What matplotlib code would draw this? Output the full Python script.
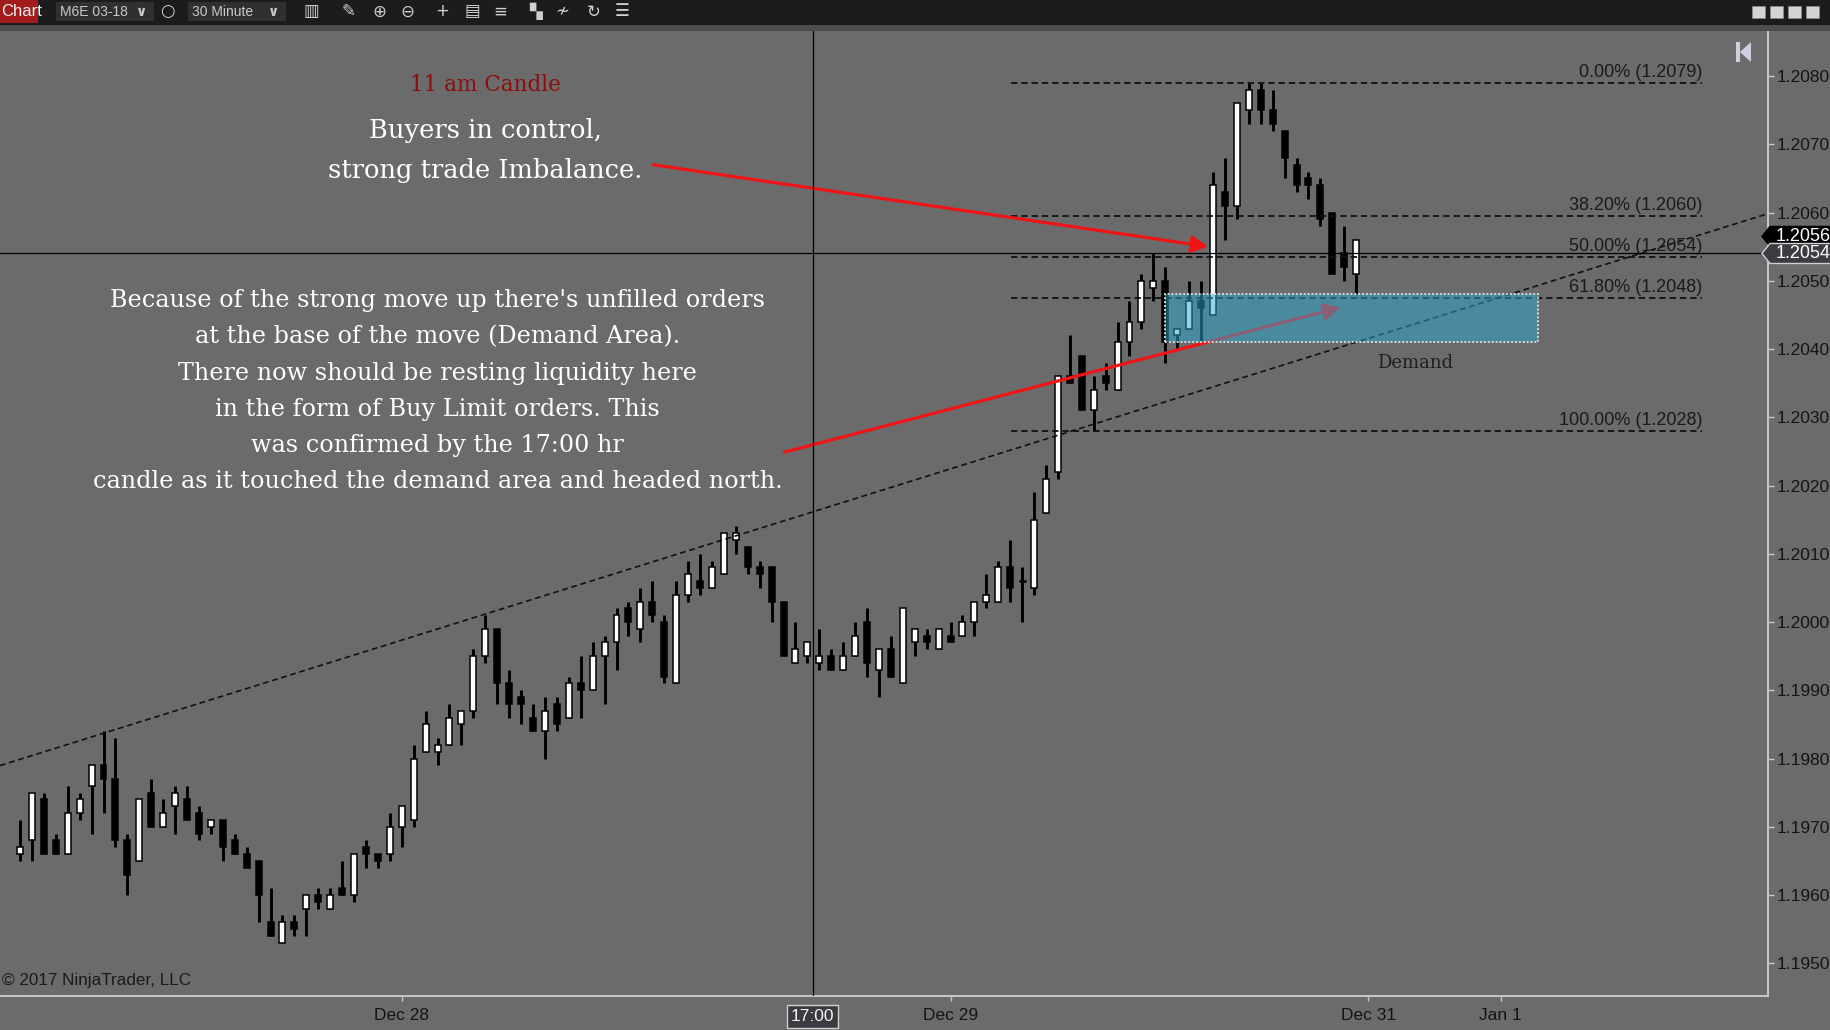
import matplotlib
matplotlib.use('Agg')
import matplotlib.pyplot as plt
from matplotlib.patches import Rectangle, Polygon
from matplotlib.transforms import blended_transform_factory
import numpy as np

W, H, DPI = 1831, 1030, 100
BG = '#6b6b6b'

# ---------------- data (30 minute bars, M6E 03-18) ----------------
opens = [1.1966, 1.1968, 1.1974, 1.1968, 1.1966, 1.1972, 1.1976, 1.1979, 1.1977, 1.1968,
         1.1965, 1.1975, 1.1970, 1.1973, 1.1974, 1.1972, 1.1970, 1.1971, 1.1968, 1.1966,
         1.1965, 1.1956, 1.1953, 1.1956, 1.1958, 1.1960, 1.1958, 1.1961, 1.1960, 1.1967,
         1.1966, 1.1966, 1.1970, 1.1971, 1.1981, 1.1981, 1.1982, 1.1985, 1.1987, 1.1995,
         1.1999, 1.1991, 1.1989, 1.1986, 1.1984, 1.1988, 1.1986, 1.1991, 1.1990, 1.1995,
         1.1997, 1.2002, 1.1999, 1.2003, 1.2000, 1.1991, 1.2004, 1.2006, 1.2005, 1.2007,
         1.2012, 1.2011, 1.2008, 1.2008, 1.2003, 1.1994, 1.1995, 1.1994, 1.1995, 1.1993,
         1.1995, 1.2000, 1.1993, 1.1996, 1.1991, 1.1997, 1.1998, 1.1996, 1.1998, 1.1998,
         1.2000, 1.2003, 1.2003, 1.2008, 1.2006, 1.2005, 1.2016, 1.2022, 1.2036, 1.2039,
         1.2031, 1.2036, 1.2034, 1.2041, 1.2044, 1.2049, 1.2050, 1.2042, 1.2043, 1.2047,
         1.2045, 1.2063, 1.2061, 1.2075, 1.2078, 1.2075, 1.2072, 1.2067, 1.2065, 1.2064,
         1.2060, 1.2054, 1.2051]
highs = [1.1971, 1.1975, 1.1975, 1.1969, 1.1976, 1.1975, 1.1979, 1.1984, 1.1983, 1.1969,
         1.1974, 1.1977, 1.1974, 1.1976, 1.1976, 1.1973, 1.1971, 1.1971, 1.1969, 1.1967,
         1.1965, 1.1961, 1.1957, 1.1957, 1.1960, 1.1961, 1.1961, 1.1965, 1.1966, 1.1968,
         1.1966, 1.1972, 1.1973, 1.1982, 1.1987, 1.1983, 1.1988, 1.1987, 1.1996, 1.2001,
         1.1999, 1.1993, 1.1990, 1.1988, 1.1989, 1.1989, 1.1992, 1.1995, 1.1997, 1.1998,
         1.2002, 1.2003, 1.2005, 1.2006, 1.2001, 1.2006, 1.2009, 1.2010, 1.2009, 1.2013,
         1.2014, 1.2011, 1.2009, 1.2008, 1.2003, 1.2000, 1.1997, 1.1999, 1.1996, 1.1997,
         1.2000, 1.2002, 1.1996, 1.1998, 1.2002, 1.1999, 1.1999, 1.1999, 1.2000, 1.2001,
         1.2003, 1.2007, 1.2009, 1.2012, 1.2008, 1.2019, 1.2023, 1.2036, 1.2042, 1.2039,
         1.2036, 1.2038, 1.2044, 1.2047, 1.2051, 1.2054, 1.2052, 1.2043, 1.2050, 1.2050,
         1.2066, 1.2068, 1.2076, 1.2079, 1.2079, 1.2078, 1.2072, 1.2068, 1.2066, 1.2065,
         1.2060, 1.2058, 1.2056]
lows = [1.1965, 1.1965, 1.1966, 1.1966, 1.1966, 1.1971, 1.1969, 1.1972, 1.1967, 1.1960,
        1.1965, 1.1970, 1.1970, 1.1969, 1.1971, 1.1968, 1.1969, 1.1965, 1.1966, 1.1964,
        1.1956, 1.1954, 1.1953, 1.1954, 1.1954, 1.1958, 1.1958, 1.1960, 1.1959, 1.1964,
        1.1964, 1.1965, 1.1967, 1.1970, 1.1981, 1.1979, 1.1982, 1.1982, 1.1986, 1.1994,
        1.1988, 1.1986, 1.1985, 1.1984, 1.1980, 1.1984, 1.1986, 1.1986, 1.1990, 1.1988,
        1.1993, 1.1998, 1.1997, 1.2000, 1.1991, 1.1991, 1.2003, 1.2004, 1.2005, 1.2007,
        1.2010, 1.2007, 1.2005, 1.2000, 1.1995, 1.1994, 1.1994, 1.1993, 1.1993, 1.1993,
        1.1995, 1.1992, 1.1989, 1.1992, 1.1991, 1.1995, 1.1996, 1.1996, 1.1997, 1.1998,
        1.1998, 1.2002, 1.2003, 1.2003, 1.2000, 1.2004, 1.2016, 1.2021, 1.2035, 1.2031,
        1.2028, 1.2034, 1.2034, 1.2039, 1.2043, 1.2047, 1.2038, 1.2040, 1.2043, 1.2041,
        1.2045, 1.2056, 1.2059, 1.2073, 1.2073, 1.2072, 1.2065, 1.2063, 1.2062, 1.2058,
        1.2051, 1.2050, 1.2048]
closes = [1.1967, 1.1975, 1.1966, 1.1966, 1.1972, 1.1974, 1.1979, 1.1977, 1.1968, 1.1963,
          1.1974, 1.1970, 1.1972, 1.1975, 1.1971, 1.1969, 1.1971, 1.1967, 1.1966, 1.1964,
          1.1960, 1.1954, 1.1956, 1.1955, 1.1960, 1.1959, 1.1960, 1.1960, 1.1966, 1.1966,
          1.1965, 1.1970, 1.1973, 1.1980, 1.1985, 1.1982, 1.1986, 1.1987, 1.1995, 1.1999,
          1.1991, 1.1988, 1.1988, 1.1984, 1.1987, 1.1985, 1.1991, 1.1990, 1.1995, 1.1997,
          1.2001, 1.2000, 1.2003, 1.2001, 1.1992, 1.2004, 1.2007, 1.2005, 1.2008, 1.2013,
          1.2013, 1.2008, 1.2007, 1.2003, 1.1995, 1.1996, 1.1997, 1.1995, 1.1993, 1.1995,
          1.1998, 1.1994, 1.1996, 1.1992, 1.2002, 1.1999, 1.1997, 1.1999, 1.1997, 1.2000,
          1.2003, 1.2004, 1.2008, 1.2005, 1.2006, 1.2015, 1.2021, 1.2036, 1.2035, 1.2031,
          1.2034, 1.2035, 1.2041, 1.2044, 1.2050, 1.2050, 1.2041, 1.2043, 1.2047, 1.2046,
          1.2064, 1.2061, 1.2076, 1.2078, 1.2075, 1.2073, 1.2068, 1.2064, 1.2064, 1.2059,
          1.2051, 1.2052, 1.2056]

time_tick_pos = [32, 78, 113, 124.1]
time_tick_labels = ['Dec 28', 'Dec 29', 'Dec 31', 'Jan 1']
price_ticks = [1.1950, 1.1960, 1.1970, 1.1980, 1.1990, 1.2000, 1.2010,
               1.2020, 1.2030, 1.2040, 1.2050, 1.2060, 1.2070, 1.2080]

fib_high, fib_low = 1.2079, 1.2028
fib_ratios = [0.0, 0.382, 0.5, 0.618, 1.0]
fib_label_prices = [1.2079, 1.2060, 1.2054, 1.2048, 1.2028]
fib_start, fib_end = 83.1, 141.0

trend_idx = [7, 112]
trend_price = [1.19837, 1.20410]

demand_start, demand_end = 96.0, 127.2
demand_low, demand_high = 1.2041, 1.2048

crosshair_idx = 66.45
crosshair_price = 1.2054
crosshair_time = '17:00'
last_price = 1.2056

arrow1_from, arrow1_to = (53.1, 1.20670), (99.6, 1.20550)
arrow2_from, arrow2_to = (64.1, 1.20249), (110.7, 1.20461)

title_red = '11 am Candle'
title_white = ['Buyers in control,', 'strong trade Imbalance.']
note_lines = ["Because of the strong move up there's unfilled orders",
              "at the base of the move (Demand Area).",
              "There now should be resting liquidity here",
              "in the form of Buy Limit orders. This",
              "was confirmed by the 17:00 hr",
              "candle as it touched the demand area and headed north."]

# ---------------- figure ----------------
plt.rcParams['font.family'] = ['Liberation Sans', 'DejaVu Sans']
fig = plt.figure(figsize=(W / DPI, H / DPI), dpi=DPI, facecolor=BG)


def fx(px):
    return px / W


def fy(py):
    return 1 - py / H


# toolbar
fig.add_artist(Rectangle((0, fy(25)), 1, 25 / H, transform=fig.transFigure,
                         facecolor='#1c1c1c', edgecolor='none', zorder=1))
fig.add_artist(Rectangle((0, fy(31)), 1, 6 / H, transform=fig.transFigure,
                         facecolor='#4d4d4d', edgecolor='none', zorder=1))
fig.add_artist(Rectangle((0, fy(23)), 38 / W, 23 / H, transform=fig.transFigure,
                         facecolor='#a31c1c', edgecolor='none', zorder=2))
fig.text(fx(1), fy(11.5), 'Chart', color='#f2f2f2', fontsize=12, va='center', ha='left', zorder=3)
for x0, w0, label in [(56, 98, 'M6E 03-18'), (188, 98, '30 Minute')]:
    fig.add_artist(Rectangle((fx(x0), fy(21)), w0 / W, 19 / H, transform=fig.transFigure,
                             facecolor='#303030', edgecolor='none', zorder=2))
    fig.text(fx(x0 + 4), fy(11.5), label, color='#c8c8c8', fontsize=10, va='center', zorder=3)
    fig.text(fx(x0 + w0 - 12), fy(11.5), '∨', color='#c8c8c8', fontsize=10, va='center',
             ha='center', family='DejaVu Sans', weight='bold', zorder=3)
icons = [(167, '○'), (311, '▥'), (348, '✎'), (379, '⊕'), (407, '⊖'), (442, '+'),
         (472, '▤'), (500, '≡'), (536, '▚'), (562, '≁'), (594, '↻'), (622, '☰')]
for x0, g in icons:
    fig.text(fx(x0), fy(11.5), g, color='#d0d0d0', fontsize=12, va='center', ha='center',
             family='DejaVu Sans', zorder=3)
for x0 in [1752, 1770, 1788, 1806]:
    fig.add_artist(Rectangle((fx(x0), fy(18)), 13 / W, 12 / H, transform=fig.transFigure,
                             facecolor='#d4d4d4', edgecolor='#888888', lw=0.6, zorder=3))

# main axes
ax = fig.add_axes([0, 34 / H, 1768 / W, (996 - 31) / H])
ax.set_facecolor(BG)
ax.set_xlim(-1.676, 146.52)
ax.set_ylim(1.19452, 1.20866)

o = np.array(opens)
h = np.array(highs)
l = np.array(lows)
c = np.array(closes)
x = np.arange(len(o))
up = c > o
down = c < o
doji = c == o

ax.vlines(x, l, h, color='black', lw=2.1, zorder=2)
ax.bar(x[up], (c - o)[up], bottom=o[up], width=0.5, color='white',
       edgecolor='black', linewidth=1.1, zorder=2.1)
ax.bar(x[down], (o - c)[down], bottom=c[down], width=0.5, color='black',
       edgecolor='black', linewidth=1.1, zorder=2.1)
ax.hlines(o[doji], x[doji] - 0.3, x[doji] + 0.3, color='black', lw=2, zorder=2.1)

# trend line extended across the chart
slope = (trend_price[1] - trend_price[0]) / (trend_idx[1] - trend_idx[0])
xl = np.array(ax.get_xlim())
ax.plot(xl, trend_price[0] + slope * (xl - trend_idx[0]), color='#111111',
        lw=1.2, ls=(0, (3.5, 2.2)), zorder=3)

# fibonacci retracement levels
fib_levels = [fib_high - r * (fib_high - fib_low) for r in fib_ratios]
ax.hlines(fib_levels, fib_start, fib_end, colors='#111111', lw=1.3,
          linestyles=[(0, (3.5, 2.2))], zorder=3)
for r, p, lp in zip(fib_ratios, fib_levels, fib_label_prices):
    ax.annotate(f'{r * 100:.2f}% ({lp:.4f})', xy=(fib_end, p), xytext=(0, 1.5),
                textcoords='offset points', ha='right', va='bottom',
                fontsize=13, color='#1a1a1a', zorder=3)

# red arrows
ax.annotate('', xy=arrow2_to, xytext=arrow2_from,
            arrowprops=dict(arrowstyle='-|>', color='#f01414', lw=2.3,
                            mutation_scale=25, shrinkA=0, shrinkB=0), zorder=3.5)

# demand zone
ax.add_patch(Rectangle((demand_start, demand_low), demand_end - demand_start,
                       demand_high - demand_low, facecolor=(40 / 255, 170 / 255, 211 / 255, 0.5),
                       edgecolor='#d8d8d8', lw=1.4, ls=(0, (1, 1)), zorder=4))
ax.annotate('Demand', xy=((demand_start + demand_end) / 2 + 5.3, demand_low), xytext=(0, -18.5),
            textcoords='offset points', ha='center', va='baseline', fontsize=13,
            family='DejaVu Serif', color='#1e1e1e', zorder=4)

ax.annotate('', xy=arrow1_to, xytext=arrow1_from,
            arrowprops=dict(arrowstyle='-|>', color='#f01414', lw=2.3,
                            mutation_scale=25, shrinkA=0, shrinkB=0), zorder=5)

# crosshair
ax.axvline(crosshair_idx, color='black', lw=0.9, zorder=5)
ax.axhline(crosshair_price, color='black', lw=0.9, zorder=5)

# axes styling
for s in ['top', 'left']:
    ax.spines[s].set_visible(False)
for s in ['right', 'bottom']:
    ax.spines[s].set_color('#c8c8c8')
    ax.spines[s].set_linewidth(1.4)
ax.yaxis.tick_right()
ax.set_yticks(price_ticks)
ax.set_yticklabels([f'{p:.4f}' for p in price_ticks])
ax.tick_params(axis='y', direction='out', length=4.5, width=1, color='#c8c8c8',
               pad=2, labelsize=12.5, labelcolor='#141414')
ax.set_xticks(time_tick_pos)
ax.set_xticklabels(time_tick_labels)
ax.tick_params(axis='x', direction='out', length=3.6, width=1, color='#c8c8c8',
               pad=5, labelsize=12.5, labelcolor='#141414')

# crosshair time label
bt = blended_transform_factory(ax.transData, fig.transFigure)
ax.text(crosshair_idx, fy(1016.5), crosshair_time, transform=bt, ha='center', va='center',
        fontsize=12.5, color='#f2f2f2', zorder=6, clip_on=False,
        bbox=dict(boxstyle='square,pad=0.22', facecolor='#3b3b42', edgecolor='#d0d0d0', lw=1))

# price tags on the right axis
fig.canvas.draw()


def tag(price, yoff, face, edge, zo):
    yc = ax.transData.transform((0, price))[1] / H + yoff / H
    hh = 10 / H
    pts = [(fx(1762), yc), (fx(1770), yc + hh), (fx(1831), yc + hh),
           (fx(1831), yc - hh), (fx(1770), yc - hh)]
    fig.add_artist(Polygon(pts, closed=True, transform=fig.transFigure,
                           facecolor=face, edgecolor=edge, lw=1, zorder=zo))
    fig.text(fx(1776), yc, f'{price:.4f}', color='white', fontsize=13,
             va='center', ha='left', zorder=zo + 0.5)


tag(last_price, 3.4, 'black', 'black', 10)
tag(crosshair_price, 0, '#3b3b42', '#d0d0d0', 12)

# navigation icon
fig.add_artist(Rectangle((fx(1736), fy(62)), 4 / W, 20 / H, transform=fig.transFigure,
                         facecolor='#cfcfe2', edgecolor='none', zorder=5))
fig.add_artist(Polygon([(fx(1740), fy(52)), (fx(1751), fy(42)), (fx(1751), fy(62))],
                       closed=True, transform=fig.transFigure,
                       facecolor='#cfcfe2', edgecolor='none', zorder=5))

# annotation texts
fig.text(fx(485), fy(91), title_red, family='DejaVu Serif', fontsize=15.5,
         color='#8e0c0c', ha='center', va='baseline', zorder=8)
for k, line in enumerate(title_white):
    fig.text(fx(485), fy(138.3 + 40 * k), line, family='DejaVu Serif', fontsize=18.5,
             color='white', ha='center', va='baseline', zorder=8)
for k, line in enumerate(note_lines):
    fig.text(fx(437.5), fy(307.5 + 36.2 * k), line, family='DejaVu Serif', fontsize=17.2,
             color='white', ha='center', va='baseline', zorder=8)

fig.text(fx(2), fy(985), '© 2017 NinjaTrader, LLC', fontsize=12.3, color='#1a1a1a',
         ha='left', va='baseline', zorder=8)

fig.savefig('out.png', dpi=DPI, facecolor=BG)
